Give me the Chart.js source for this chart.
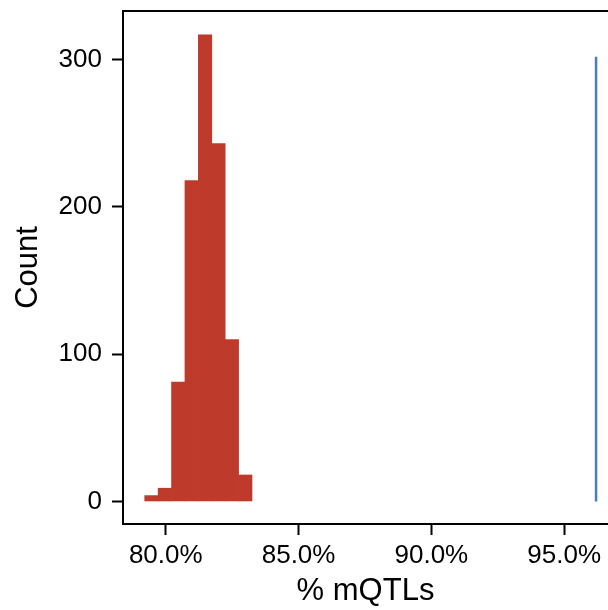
<!DOCTYPE html>
<html>
<head>
<meta charset="utf-8">
<script src="https://cdn.jsdelivr.net/npm/chart.js@4"></script>
<style>
  html, body { margin: 0; padding: 0; background: #fff; }
  #wrap { width: 608px; height: 610px; }
</style>
</head>
<body>
<div id="wrap"><canvas id="histChart"></canvas></div>
<script>
// histogram bins (bin centres, % mQTLs) and counts
const binCentres = [79.46, 79.965, 80.47, 80.975, 81.48, 81.985, 82.49, 82.995];
const binCounts = [4, 9, 81, 218, 317, 243, 110, 18];

// observed value, drawn as a vertical line
const observedX = [96.2, 96.2];
const observedY = [0, 302];

const xTicks = [80, 85, 90, 95];
const yTicks = [0, 100, 200, 300];

const histData = binCentres.map((x, i) => ({ x: x, y: binCounts[i] }));
const lineData = observedX.map((x, i) => ({ x: x, y: observedY[i] }));

// top border of the panel
const topFrame = {
    id: 'topFrame',
    afterDraw(chart) {
        const { ctx, chartArea } = chart;
        ctx.save();
        ctx.strokeStyle = '#000';
        ctx.lineWidth = 2;
        ctx.beginPath();
        ctx.moveTo(chartArea.left - 1, chartArea.top);
        ctx.lineTo(chartArea.right, chartArea.top);
        ctx.stroke();
        ctx.restore();
    }
};

const ctx = document.getElementById('histChart').getContext('2d');
new Chart(ctx, {
    type: 'bar',
    data: {
        datasets: [{
            type: 'bar',
            data: histData,
            backgroundColor: '#BE3B2B',
            borderWidth: 0,
            barPercentage: 1.0,
            categoryPercentage: 1.0,
            order: 2
        }, {
            type: 'line',
            data: lineData,
            borderColor: '#4A7BC4',
            borderWidth: 2.5,
            pointRadius: 0,
            fill: false,
            order: 1
        }]
    },
    options: {
        responsive: true,
        maintainAspectRatio: false,
        animation: false,
        layout: { padding: { top: 11, right: 0, left: 0, bottom: 0 } },
        plugins: {
            legend: { display: false },
            tooltip: { enabled: false }
        },
        scales: {
            x: {
                type: 'linear',
                min: 78.39,
                max: 96.65,
                offset: false,
                afterBuildTicks: (scale) => { scale.ticks = xTicks.map(v => ({ value: v })); },
                afterFit: (scale) => {
                    scale.height = 86;
                    scale.paddingLeft = 0;
                    scale.paddingRight = 0;
                },
                ticks: {
                    color: '#000',
                    padding: 5,
                    maxRotation: 0,
                    font: { family: 'Liberation Sans, Arial, sans-serif', size: 26 },
                    callback: (v) => v.toFixed(1) + '%'
                },
                grid: { offset: false, drawOnChartArea: false, drawTicks: true, tickLength: 11, tickColor: '#000', tickWidth: 2 },
                border: { display: true, color: '#000', width: 2 },
                title: {
                    display: true,
                    text: '% mQTLs',
                    color: '#000',
                    padding: { top: 0, bottom: 0 },
                    font: { family: 'Liberation Sans, Arial, sans-serif', size: 31 }
                }
            },
            y: {
                min: -15.3,
                max: 333.1,
                afterBuildTicks: (scale) => { scale.ticks = yTicks.map(v => ({ value: v })); },
                afterFit: (scale) => {
                    scale.width = 123;
                    scale.paddingTop = 0;
                    scale.paddingBottom = 0;
                },
                ticks: {
                    color: '#000',
                    padding: 10,
                    font: { family: 'Liberation Sans, Arial, sans-serif', size: 26 }
                },
                grid: { drawOnChartArea: false, drawTicks: true, tickLength: 11, tickColor: '#000', tickWidth: 2 },
                border: { display: true, color: '#000', width: 2 },
                title: {
                    display: true,
                    text: 'Count',
                    color: '#000',
                    padding: { top: 10, bottom: 0 },
                    font: { family: 'Liberation Sans, Arial, sans-serif', size: 31 }
                }
            }
        }
    },
    plugins: [topFrame]
});
</script>
</body>
</html>
